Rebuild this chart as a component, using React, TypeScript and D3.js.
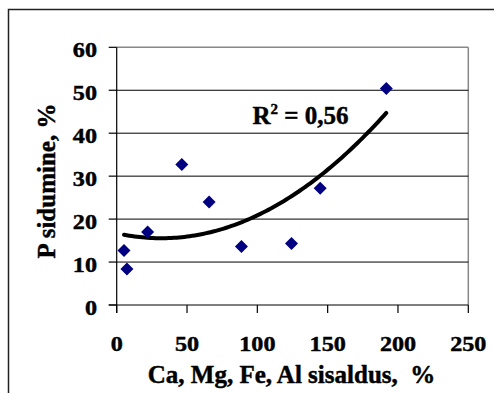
import React from "react";
import * as d3 from "d3";

const xValues = [5.2, 7.3, 22, 46.3, 65.7, 88.7, 124.3, 144.7, 191.7];
const yValues = [12.7, 8.4, 17.0, 32.7, 24.0, 13.6, 14.3, 27.2, 50.4];
const xTicks = [0, 50, 100, 150, 200, 250];
const yTicks = [0, 10, 20, 30, 40, 50, 60];
const xTitle = "Ca, Mg, Fe, Al sisaldus,\u00A0\u00A0%";
const yTitle = "P sidumine, %";
const r2Label = "0,56";

function quadFit(xs: number[], ys: number[]) {
  let s0 = 0, s1 = 0, s2 = 0, s3 = 0, s4 = 0, t0 = 0, t1 = 0, t2 = 0;
  xs.forEach((x, i) => {
    const y = ys[i];
    s0 += 1; s1 += x; s2 += x * x; s3 += x * x * x; s4 += x * x * x * x;
    t0 += y; t1 += x * y; t2 += x * x * y;
  });
  const M = [
    [s0, s1, s2, t0],
    [s1, s2, s3, t1],
    [s2, s3, s4, t2],
  ];
  for (let i = 0; i < 3; i++) {
    for (let k = i + 1; k < 3; k++) {
      const f = M[k][i] / M[i][i];
      for (let j = i; j < 4; j++) M[k][j] -= f * M[i][j];
    }
  }
  const c = M[2][3] / M[2][2];
  const b = (M[1][3] - M[1][2] * c) / M[1][1];
  const a = (M[0][3] - M[0][2] * c - M[0][1] * b) / M[0][0];
  return { a, b, c };
}

export default function App() {
  const W = 494, H = 393;
  const left = 116.7, right = 468.3, top = 47.3, bottom = 305;
  const x = d3.scaleLinear().domain([0, 250]).range([left, right]);
  const y = d3.scaleLinear().domain([0, 60]).range([bottom, top]);
  const { a, b, c } = quadFit(xValues, yValues);
  const xmin = d3.min(xValues)!, xmax = d3.max(xValues)!;
  const pts = d3.range(0, 101).map((i) => {
    const xv = xmin + ((xmax - xmin) * i) / 100;
    return [xv, a + b * xv + c * xv * xv] as [number, number];
  });
  const line = d3.line<[number, number]>().x((d) => x(d[0])).y((d) => y(d[1]));
  const font = "'Liberation Serif', 'Times New Roman', serif";
  const diamond = "M0,-6.5L6.5,0L0,6.5L-6.5,0Z";
  const txt = { fontFamily: font, fontWeight: "bold" as const, fill: "#000", stroke: "#000", strokeWidth: 0.45, style: { whiteSpace: "pre" as const } };
  return (
    <svg width={W} height={H} style={{ position: "absolute", left: 0, top: 0, background: "#fff" }}>
      <rect x={0} y={0} width={W} height={H} fill="#fff" />
      <rect x={8.5} y={9.5} width={W + 20} height={H + 20} fill="none" stroke="#222" strokeWidth={1.5} />
      <line x1={left} x2={right} y1={top} y2={top} stroke="#888" strokeWidth={1.5} />
      <line x1={right} x2={right} y1={top} y2={bottom} stroke="#888" strokeWidth={1.5} />
      {yTicks.filter((t) => t > 0 && t < 60).map((t) => (
        <line key={"g" + t} x1={left} x2={right} y1={y(t)} y2={y(t)} stroke="#000" strokeWidth={1} />
      ))}
      <line x1={left} x2={left} y1={top} y2={bottom + 8} stroke="#000" strokeWidth={1.2} />
      <line x1={left - 8} x2={right} y1={bottom} y2={bottom} stroke="#000" strokeWidth={1.2} />
      {yTicks.map((t) => (
        <line key={"yt" + t} x1={left - 8} x2={left} y1={y(t)} y2={y(t)} stroke="#000" strokeWidth={1.2} />
      ))}
      {xTicks.map((t) => (
        <line key={"xt" + t} x1={x(t)} x2={x(t)} y1={bottom} y2={bottom + 8} stroke="#000" strokeWidth={1.2} />
      ))}
      {yTicks.map((t) => (
        <text key={"yl" + t} transform={`translate(97,${y(t) + 9.5}) scale(1.15,1)`} textAnchor="end" fontSize={21} {...txt}>{t}</text>
      ))}
      {xTicks.map((t) => (
        <text key={"xl" + t} transform={`translate(${x(t)},350.5) scale(1.15,1)`} textAnchor="middle" fontSize={21} {...txt}>{t}</text>
      ))}
      <text x={291.5} y={382.5} textAnchor="middle" fontSize={25} {...txt}>{xTitle}</text>
      <text transform="translate(54.5,181) rotate(-90)" textAnchor="middle" fontSize={25} {...txt}>{yTitle}</text>
      <path d={line(pts) ?? ""} fill="none" stroke="#000" strokeWidth={4} strokeLinecap="round" />
      {xValues.map((xv, i) => (
        <path key={"p" + i} d={diamond} transform={`translate(${x(xv)},${y(yValues[i])})`} fill="#000080" />
      ))}
      <text x={252.5} y={123.5} fontSize={25} {...txt}>
        R<tspan dy={-10} fontSize={15}>2</tspan><tspan dy={10}>{" = " + r2Label}</tspan>
      </text>
    </svg>
  );
}
